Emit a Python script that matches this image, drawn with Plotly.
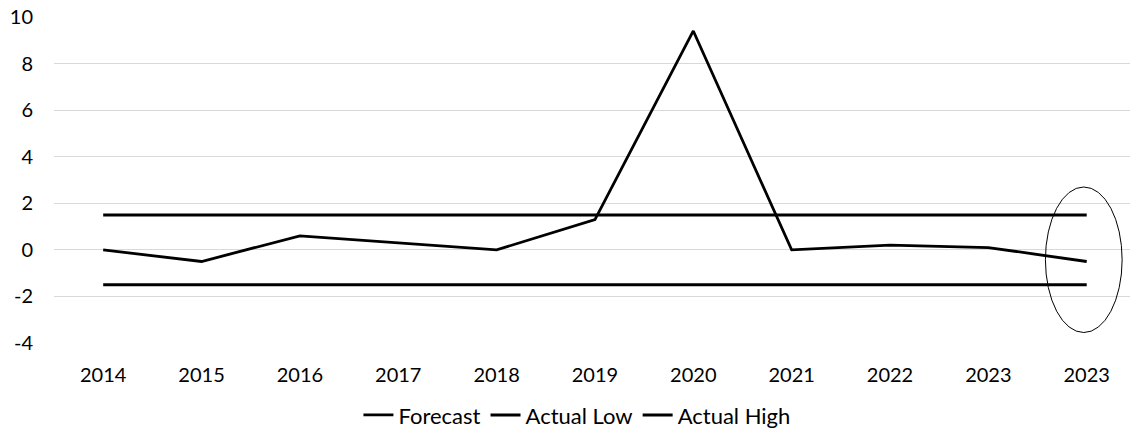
import plotly.graph_objects as go

categories = ["2014", "2015", "2016", "2017", "2018", "2019", "2020", "2021", "2022", "2023", "2023"]
forecast = [0, -0.5, 0.6, 0.3, 0, 1.3, 9.4, 0, 0.2, 0.1, -0.5]
actual_low = [-1.5] * 11
actual_high = [1.5] * 11
y_ticks = [-4, -2, 0, 2, 4, 6, 8, 10]

xpos = list(range(len(categories)))
FONT = "Lato"

fig = go.Figure()
fig.add_trace(go.Scatter(x=xpos, y=forecast, mode="lines", name="Forecast",
                         line=dict(color="black", width=2.8)))
fig.add_trace(go.Scatter(x=xpos, y=actual_low, mode="lines", name="Actual Low",
                         line=dict(color="black", width=3)))
fig.add_trace(go.Scatter(x=xpos, y=actual_high, mode="lines", name="Actual High",
                         line=dict(color="black", width=3)))

fig.add_shape(type="circle", xref="x", yref="y", x0=9.58, x1=10.36, y0=-3.55, y1=2.7,
              line=dict(color="black", width=1))

fig.update_layout(
    width=1130, height=428,
    margin=dict(l=54, r=0, t=17, b=85, autoexpand=False),
    paper_bgcolor="white", plot_bgcolor="white",
    font=dict(family=FONT, size=20, color="black"),
    showlegend=True,
    legend=dict(orientation="h", x=0.486, xanchor="center",
                yref="container", y=0.03, yanchor="middle",
                font=dict(family=FONT, size=22, color="black"), itemwidth=30,
                bgcolor="rgba(0,0,0,0)"),
    xaxis=dict(range=[-0.5, 10.44], tickmode="array", tickvals=xpos, ticktext=categories,
               showgrid=False, zeroline=False, showline=False, ticks="",
               ticklabelstandoff=18, automargin=False, fixedrange=True),
    yaxis=dict(range=[-4, 10], tickmode="array", tickvals=y_ticks,
               ticktext=[str(v) for v in y_ticks],
               showgrid=True, gridcolor="#d9d9d9", gridwidth=1, automargin=False,
               zeroline=False, showline=False, ticks="", ticklabelstandoff=20,
               fixedrange=True),
)

fig.write_html("out.html", config={"displayModeBar": False},
               post_script="document.body.style.margin='0';document.body.style.overflow='hidden';")
